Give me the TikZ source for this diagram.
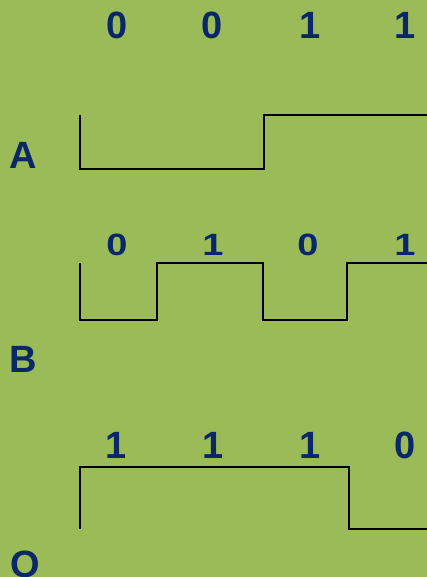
\documentclass[tikz,border=0pt]{standalone}
\usepackage{fontspec}
\setmainfont{Liberation Sans}
\usepackage{xcolor}
\usetikzlibrary{positioning}
\definecolor{bggreen}{RGB}{155,187,89}
\definecolor{bitblue}{RGB}{10,40,104}

\begin{document}
\begin{tikzpicture}[
  x=1pt, y=-1pt,
  bit/.style={text=bitblue, font=\fontsize{38}{40}\selectfont\bfseries, anchor=base, inner sep=0pt},
  smallbit/.style={bit, yscale=0.81, transform shape},
  signame/.style={bit},
  wave/.style={line width=2pt, line join=miter}
]
% background
\fill[bggreen] (0,0) rectangle (427,577);
\useasboundingbox (0,0) rectangle (427,577);

% signal names
\node[signame] (nameA) at (23,169) {A};
\node[signame] (nameB) at (23,372) {B};
\node[signame] (nameQ) at (25,577) {Q};

% bit values
\foreach \x/\v [count=\i] in {117/0,212/0,310/1,405/1}
  \node[bit] (a\i) at (\x,39) {\v};
\foreach \x/\v [count=\i] in {117/0,213/1,308/0,405/1}
  \node[smallbit] (b\i) at (\x,255) {\v};
\foreach \x/\v [count=\i] in {116/1,213/1,310/1,405/0}
  \node[bit] (q\i) at (\x,458) {\v};

% waveforms
\draw[wave] (80,115) -- (80,169) -- (264,169) -- (264,115) -- (427,115);
\draw[wave] (80,263) -- (80,320) -- (157,320) -- (157,263) -- (263,263)
  -- (263,320) -- (347,320) -- (347,263) -- (427,263);
\draw[wave] (80,529) -- (80,467) -- (349,467) -- (349,529) -- (427,529);
\end{tikzpicture}
\end{document}
